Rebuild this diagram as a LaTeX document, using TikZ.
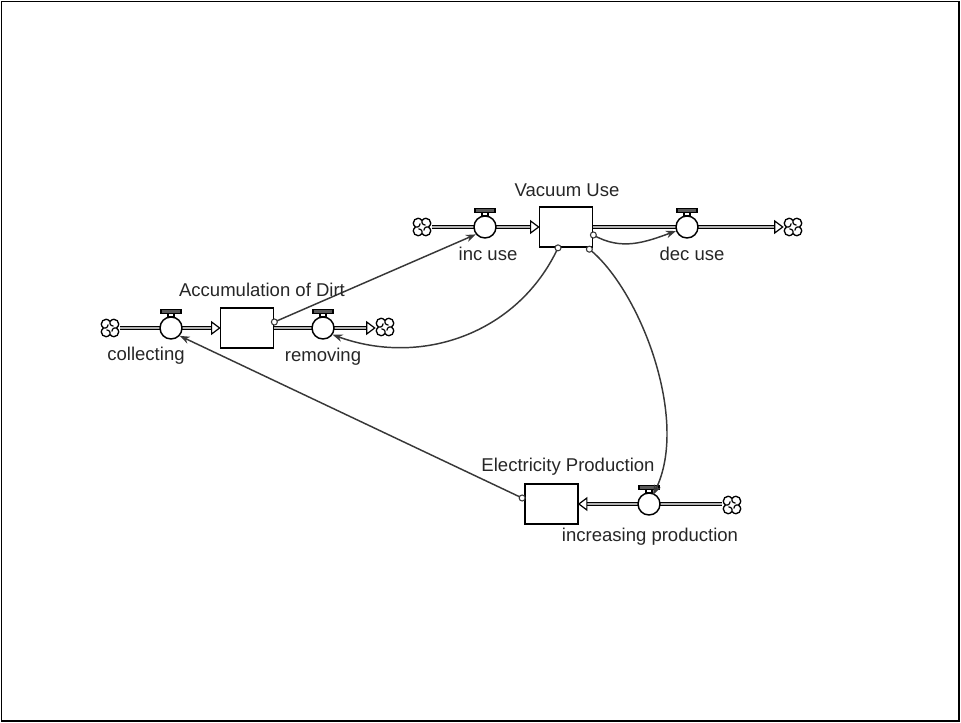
\documentclass[tikz,border=0pt]{standalone}
\usepackage{fontspec}
\setmainfont{Liberation Sans}
\usetikzlibrary{arrows.meta,calc,backgrounds}

% valve handle: short stem and a bar above the valve circle
\newcommand\valvetop[1]{%
  \draw[line width=0.8pt, fill=white] ($(#1.north)+(-3,0)$) rectangle ($(#1.north)+(3,-3)$);
  \draw[line width=0.8pt, fill=black!65] ($(#1.north)+(-10,-3)$) rectangle ($(#1.north)+(10,-6.5)$);}

\tikzset{
  stock/.style={draw, line width=1.3pt, fill=white, minimum width=39.75pt,
    minimum height=30pt, inner sep=0},
  valve/.style={circle, draw, line width=1.1pt, fill=white, minimum size=16.5pt, inner sep=0},
  cloudspot/.style={circle, minimum size=15pt, inner sep=0},
  pipe/.style={draw=black, line width=0.75pt, double=gray!60, double distance=1.6pt},
  pipehead/.style={draw=black, line width=0.9pt, fill=white, line join=miter},
  link/.style={draw=black!78, line width=1.1pt, -{Stealth[length=7.5pt,width=5.5pt]}},
  dot/.style={circle, draw=black!78, line width=0.8pt, fill=white, minimum size=4.5pt, inner sep=0},
  lbl/.style={font=\fontsize{13.9}{16}\selectfont, text=black!85, inner sep=0},
  cloudsym/.pic={
    \draw[line width=1pt]
      (0,-6.5) .. controls (4.8,-12.5) and (12.5,-4.8) .. (6.5,0)
             .. controls (12.5,4.8) and (4.8,12.5) .. (0,6.5)
             .. controls (-4.8,12.5) and (-12.5,4.8) .. (-6.5,0)
             .. controls (-12.5,-4.8) and (-4.8,-12.5) .. (0,-6.5) -- cycle;
    \draw[line width=0.9pt] (0,-6.5) .. controls (0,-3) .. (3.5,-1.8)
      (6.5,0) .. controls (3,0) .. (1.8,3.5)
      (0,6.5) .. controls (0,3) .. (-3.5,1.8)
      (-6.5,0) .. controls (-3,0) .. (-1.8,-3.5);
  }
}

\begin{document}
\begin{tikzpicture}[x=0.75pt,y=-0.75pt]
\useasboundingbox (0,0) rectangle (961,723);
\draw[line width=0.8pt] (1.5,1.5) rectangle (959,721);

% stocks
\node[stock] (dirt) at (247,328) {};
\node[stock] (vac) at (566,227) {};
\node[stock] (elec) at (551.5,504) {};

% valves
\node[valve] (coll) at (171,328) {};
\node[valve] (remv) at (323,328) {};
\node[valve] (incu) at (485,227) {};
\node[valve] (decu) at (687,227) {};
\node[valve] (incp) at (649,504) {};

% sources and sinks
\node[cloudspot] (c1) at (110,328) {};
\node[cloudspot] (c2) at (385,327) {};
\node[cloudspot] (c3) at (422,227) {};
\node[cloudspot] (c4) at (793,227) {};
\node[cloudspot] (c5) at (732,505) {};
\foreach \c in {c1,c2,c3,c4,c5} \pic at (\c) {cloudsym};

% flow pipes
\begin{scope}[on background layer]
  \draw[pipe] (c1.east) -- ([xshift=-6pt]dirt.west);
  \draw[pipe] (dirt.east) -- ([xshift=-6pt]dirt.east -| c2.west);
  \draw[pipe] (c3.east) -- ([xshift=-6pt]vac.west);
  \draw[pipe] (vac.east) -- ([xshift=-6pt]c4.west);
  \draw[pipe] (c5.west |- elec.east) -- ([xshift=6pt]elec.east);
\end{scope}
\draw[pipehead] (dirt.west) -- ++(-8,-6) -- ++(0,12) -- cycle;
\draw[pipehead] (dirt.east -| c2.west) -- ++(-8,-6) -- ++(0,12) -- cycle;
\draw[pipehead] (vac.west) -- ++(-8,-6) -- ++(0,12) -- cycle;
\draw[pipehead] (c4.west) -- ++(-8,-6) -- ++(0,12) -- cycle;
\draw[pipehead] (elec.east) -- ++(8,-6) -- ++(0,12) -- cycle;

\foreach \v in {coll,remv,incu,decu,incp} {\valvetop{\v}}

% information links
\coordinate (o1) at ([yshift=4.5pt]dirt.east);
\coordinate (o2) at ([xshift=-6pt]vac.south);
\coordinate (o3) at ([yshift=-6pt]vac.east);
\coordinate (o4) at ([xshift=-3pt,yshift=-1pt]vac.south east);
\coordinate (o5) at ([yshift=4.5pt,xshift=-1.5pt]elec.west);

\draw[link] (o1) -- (incu.219);
\draw[link] (o2) to[out=-115,in=-20] (remv.-35);
\draw[link] (o3) to[out=-30,in=200] (decu.200);
\draw[link] (o4) .. controls (640,290) and (690,420) .. ([xshift=3pt,yshift=-2pt]incp.north);
\draw[link] (o5) -- (coll.-42);
\foreach \o in {o1,o2,o3,o4,o5} \node[dot] at (\o) {};

% labels
\node[lbl] (lacc) at (262,290) {Accumulation of Dirt};
\node[lbl] (lcoll) at (146,356) {collecting};
\node[lbl] (lremv) at (323,357) {removing};
\node[lbl] (lvac) at (567,190) {Vacuum Use};
\node[lbl] (lincu) at (488,254) {inc use};
\node[lbl] (ldecu) at (692,254) {dec use};
\node[lbl] (lelec) at (568,467) {Electricity Production};
\node[lbl] (lincp) at (650,537) {increasing production};
\end{tikzpicture}
\end{document}
